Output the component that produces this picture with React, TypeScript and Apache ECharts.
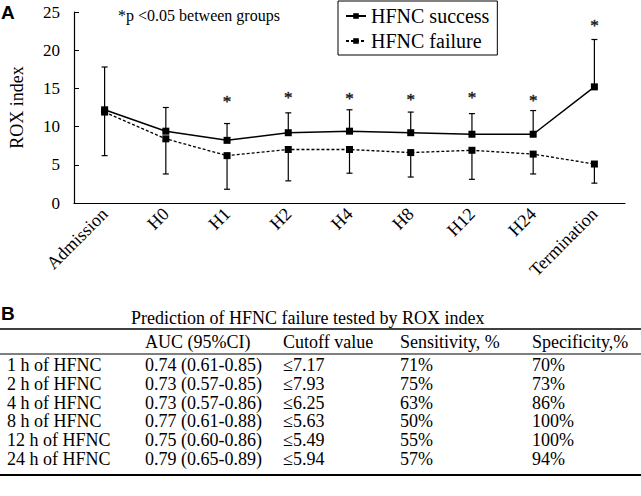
import React, { useEffect, useRef } from "react";
import * as echarts from "echarts";

const categories = ["Admission", "H0", "H1", "H2", "H4", "H8", "H12", "H24", "Termination"];
const successMean = [12.2, 9.4, 8.2, 9.2, 9.4, 9.2, 9.0, 9.0, 15.2];
const successSD = [5.6, 3.1, 2.2, 2.6, 2.8, 2.7, 2.7, 3.1, 6.2];
const failureMean = [11.9, 8.4, 6.2, 7.0, 7.0, 6.6, 6.9, 6.4, 5.1];
const failureSD = [5.7, 4.6, 4.4, 4.1, 3.1, 3.2, 3.8, 2.6, 2.5];
const starY: (number | null)[] = [null, null, 13.6, 14.1, 13.9, 13.8, 14.1, 13.7, 23.5];
const yTicks = [0, 5, 10, 15, 20, 25];

const tableTitle = "Prediction of HFNC failure tested by ROX index";
const tableHeader = ["", "AUC (95%CI)", "Cutoff value", "Sensitivity, %", "Specificity,%"];
const rowLabels = ["1 h of HFNC", "2 h of HFNC", "4 h of HFNC", "8 h of HFNC", "12 h of HFNC", "24 h of HFNC"];
const aucValues = ["0.74 (0.61-0.85)", "0.73 (0.57-0.85)", "0.73 (0.57-0.86)", "0.77 (0.61-0.88)", "0.75 (0.60-0.86)", "0.79 (0.65-0.89)"];
const cutoffValues = ["≤7.17", "≤7.93", "≤6.25", "≤5.63", "≤5.49", "≤5.94"];
const sensitivity = ["71%", "75%", "63%", "50%", "55%", "57%"];
const specificity = ["70%", "73%", "86%", "100%", "100%", "94%"];

const SERIF = "'Liberation Serif', 'Times New Roman', serif";
const SANS = "'Liberation Sans', Arial, sans-serif";

function errorBarRender(params: any, api: any) {
  const x = api.value(0);
  const p0 = api.coord([x, api.value(1)]);
  const p1 = api.coord([x, api.value(2)]);
  const half = 3;
  const style = { stroke: "#000", lineWidth: 1.2, fill: "none" };
  return {
    type: "group",
    children: [
      { type: "line", shape: { x1: p0[0], y1: p0[1], x2: p1[0], y2: p1[1] }, style },
      { type: "line", shape: { x1: p1[0] - half, y1: p1[1], x2: p1[0] + half, y2: p1[1] }, style },
    ],
  };
}

export default function App() {
  const ref = useRef<HTMLDivElement>(null);
  useEffect(() => {
    if (!ref.current) return;
    const chart = echarts.init(ref.current, undefined, { renderer: "svg" });

    const colX = [7, 145, 283, 400, 532];
    const headerY = 342;
    const rowY0 = 365;
    const rowStep = 18.8;
    const tfont = `18px ${SERIF}`;
    const tableGraphics: any[] = [];
    tableGraphics.push({
      type: "text", x: 131, y: 318,
      style: { text: tableTitle, font: tfont, fill: "#000", textVerticalAlign: "middle" },
    });
    tableGraphics.push({ type: "line", shape: { x1: 0, y1: 329, x2: 641, y2: 329 }, style: { stroke: "#000", lineWidth: 1.5 } });
    tableGraphics.push({ type: "line", shape: { x1: 0, y1: 354, x2: 641, y2: 354 }, style: { stroke: "#000", lineWidth: 1.2 } });
    tableGraphics.push({ type: "line", shape: { x1: 0, y1: 475, x2: 641, y2: 475 }, style: { stroke: "#000", lineWidth: 2 } });
    tableHeader.forEach((h, c) => {
      if (!h) return;
      tableGraphics.push({
        type: "text", x: colX[c], y: headerY,
        style: { text: h, font: tfont, fill: "#000", textVerticalAlign: "middle" },
      });
    });
    const cols = [rowLabels, aucValues, cutoffValues, sensitivity, specificity];
    rowLabels.forEach((_, r) => {
      cols.forEach((col, c) => {
        tableGraphics.push({
          type: "text", x: colX[c], y: rowY0 + r * rowStep,
          style: { text: col[r], font: tfont, fill: "#000", textVerticalAlign: "middle" },
        });
      });
    });

    const option: any = {
      animation: false,
      backgroundColor: "#fff",
      color: ["#000"],
      grid: { left: 65, right: 16, top: 12, bottom: 293, containLabel: false },
      legend: {
        left: 338,
        top: 1,
        orient: "vertical",
        borderColor: "#000",
        borderWidth: 1,
        padding: [5, 8, 4, 7],
        itemGap: 5,
        itemWidth: 20,
        itemHeight: 7,
        textStyle: { fontFamily: SERIF, fontSize: 20, color: "#000" },
        data: ["HFNC success", "HFNC failure"],
      },
      xAxis: {
        type: "category",
        data: categories,
        boundaryGap: true,
        axisLine: { lineStyle: { color: "#000", width: 1.2 } },
        axisTick: { inside: true, length: 5, lineStyle: { color: "#000" } },
        axisLabel: {
          rotate: 45,
          margin: 8,
          fontFamily: SERIF,
          fontSize: 18,
          color: "#000",
          interval: 0,
        },
        splitLine: { show: false },
      },
      yAxis: {
        type: "value",
        min: 0,
        max: 25,
        interval: 5,
        name: "ROX index",
        nameLocation: "middle",
        nameGap: 48,
        nameTextStyle: { fontFamily: SERIF, fontSize: 18, color: "#000" },
        axisLine: { show: true, lineStyle: { color: "#000", width: 1.2 } },
        axisTick: { show: true, inside: true, length: 5, lineStyle: { color: "#000" } },
        axisLabel: {
          margin: 14,
          fontFamily: SERIF,
          fontSize: 17,
          color: "#000",
          formatter: (v: number) => (yTicks.includes(v) ? String(v) : ""),
        },
        splitLine: { show: false },
      },
      graphic: [
        {
          type: "text", left: 1, top: 3,
          style: { text: "A", font: `bold 19px ${SANS}`, fill: "#000" },
        },
        {
          type: "text", left: 1, top: 304,
          style: { text: "B", font: `bold 19px ${SANS}`, fill: "#000" },
        },
        {
          type: "text", x: 118, y: 15,
          style: { text: "*p <0.05 between groups", font: `16px ${SERIF}`, fill: "#000", textVerticalAlign: "middle" },
        },
        ...tableGraphics,
      ],
      series: [
        {
          name: "HFNC success",
          type: "line",
          data: successMean,
          symbol: "rect",
          symbolSize: 7,
          itemStyle: { color: "#000" },
          lineStyle: { color: "#000", width: 1.5, type: "solid" },
          z: 3,
        },
        {
          name: "HFNC failure",
          type: "line",
          data: failureMean,
          symbol: "rect",
          symbolSize: 7,
          itemStyle: { color: "#000" },
          lineStyle: { color: "#000", width: 1.3, type: [3, 2] },
          z: 3,
        },
        {
          type: "custom",
          renderItem: errorBarRender,
          itemStyle: { color: "#000" },
          data: successMean.map((m, i) => [i, m, m + successSD[i]]),
          z: 2,
        },
        {
          type: "custom",
          renderItem: errorBarRender,
          itemStyle: { color: "#000" },
          data: failureMean.map((m, i) => [i, m, m - failureSD[i]]),
          z: 2,
        },
        {
          type: "scatter",
          symbolSize: 1,
          itemStyle: { color: "rgba(0,0,0,0)" },
          silent: true,
          label: {
            show: true,
            position: "inside",
            formatter: "*",
            color: "#000",
            fontFamily: SERIF,
            fontSize: 17,
            textBorderColor: "#000",
            textBorderWidth: 0.5,
            offset: [0, 2],
          },
          data: starY.map((v, i) => [i, v]).filter((d) => d[1] !== null),
          z: 4,
        },
      ],
    };
    chart.setOption(option);
    return () => chart.dispose();
  }, []);
  return (
    <div
      ref={ref}
      style={{ position: "fixed", left: 0, top: 0, width: 641, height: 496, background: "#fff" }}
    />
  );
}
